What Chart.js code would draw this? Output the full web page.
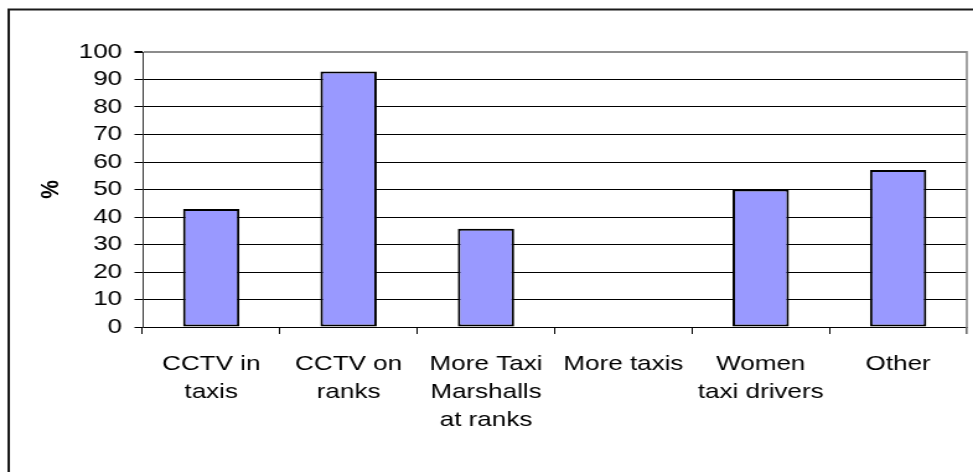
<!DOCTYPE html>
<html>
<head>
<meta charset="utf-8">
<script src="https://cdn.jsdelivr.net/npm/chart.js@4/dist/chart.umd.min.js"></script>
<style>
html, body { margin: 0; padding: 0; background: #fff; }
</style>
</head>
<body>
<canvas id="chart" width="785" height="472" style="display:block;width:973px;height:472px"></canvas>
<script>
const categories = [
  ['CCTV in', 'taxis'],
  ['CCTV on', 'ranks'],
  ['More Taxi', 'Marshalls', 'at ranks'],
  'More taxis',
  ['Women', 'taxi drivers'],
  'Other'
];
const percentValues = [42.9, 92.9, 35.7, 0, 50, 57.1];
const yTicks = [0, 10, 20, 30, 40, 50, 60, 70, 80, 90, 100];

const font = { family: '"Liberation Sans", Arial, sans-serif', size: 21 };

const frame = {
  id: 'frame',
  beforeDraw(chart) {
    const ctx = chart.ctx;
    ctx.save();
    ctx.fillStyle = '#fff';
    ctx.fillRect(0, 0, chart.width, chart.height);
    ctx.strokeStyle = '#1a1a1a';
    ctx.lineWidth = 2;
    ctx.strokeRect(7, 9.5, chart.width + 50, chart.height + 50);
    ctx.restore();
  },
  afterDraw(chart) {
    const a = chart.chartArea;
    const ctx = chart.ctx;
    ctx.save();
    ctx.strokeStyle = '#8c8c8c';
    ctx.lineWidth = 1.6;
    ctx.beginPath();
    ctx.moveTo(a.right, a.top - 1);
    ctx.lineTo(a.right, a.bottom + 7);
    ctx.stroke();
    ctx.restore();
  }
};

new Chart(document.getElementById('chart'), {
  type: 'bar',
  data: {
    labels: categories,
    datasets: [{
      data: percentValues,
      backgroundColor: '#9999ff',
      borderColor: '#000',
      borderWidth: 2,
      borderSkipped: false,
      barPercentage: 0.41,
      categoryPercentage: 1
    }]
  },
  options: {
    responsive: false,
    devicePixelRatio: 1,
    animation: false,
    layout: { padding: { left: 0, right: 5, top: 52, bottom: 0 } },
    plugins: { legend: { display: false }, tooltip: { enabled: false } },
    scales: {
      x: {
        afterFit: s => { s.height = 145; },
        grid: { drawOnChartArea: false, offset: true, tickLength: 7, tickColor: '#000' },
        border: { color: '#000', width: 1 },
        ticks: { color: '#000', font: { ...font, lineHeight: 1.33 }, padding: 16, maxRotation: 0, autoSkip: false }
      },
      y: {
        min: 0,
        max: 100,
        afterFit: s => { s.width = 115; },
        afterBuildTicks: s => { s.ticks = yTicks.map(v => ({ value: v })); },
        grid: {
          color: c => c.tick && c.tick.value === 100 ? '#8c8c8c' : '#000',
          lineWidth: c => c.tick && c.tick.value === 100 ? 2 : 1,
          tickColor: '#000',
          tickLength: 6.5
        },
        border: { color: '#333', width: 1 },
        ticks: { color: '#000', font, padding: 10, autoSkip: false },
        title: {
          display: true,
          text: '%',
          color: '#000',
          font: { ...font, weight: 'bold' },
          padding: { top: 29, bottom: 0 }
        }
      }
    }
  },
  plugins: [frame]
});
</script>
</body>
</html>
